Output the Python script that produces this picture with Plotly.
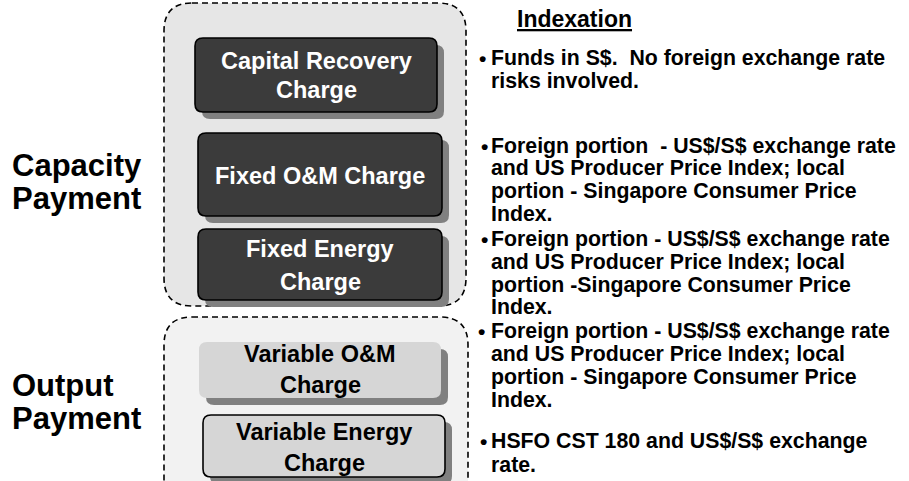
import plotly.graph_objects as go

# ---- content ----
group_labels = [["Capacity", "Payment"], ["Output", "Payment"]]
charge_names = [
    ["Capital Recovery", "Charge"],
    ["Fixed O&M Charge"],
    ["Fixed Energy", "Charge"],
    ["Variable O&M", "Charge"],
    ["Variable Energy", "Charge"],
]
header = "Indexation"
indexation_items = [
    ["Funds in S$.  No foreign exchange rate", "risks involved."],
    ["Foreign portion  - US$/S$ exchange rate", "and US Producer Price Index; local",
     "portion - Singapore Consumer Price", "Index."],
    ["Foreign portion - US$/S$ exchange rate", "and US Producer Price Index; local",
     "portion -Singapore Consumer Price", "Index."],
    ["Foreign portion - US$/S$ exchange rate", "and US Producer Price Index; local",
     "portion - Singapore Consumer Price", "Index."],
    ["HSFO CST 180 and US$/S$ exchange", "rate."],
]

# ---- layout geometry (pixels) ----
W, H = 909, 481
FONT = "Liberation Sans, Arial, sans-serif"

containers = [  # x0, y0, x1, y1, fill
    (164, 3, 466, 306, "#e6e6e6"),
    (164, 317, 468, 520, "#f2f2f2"),
]
boxes = [  # x0, y0, x1, y1, fill, border, textcolor, line centers
    (195, 38, 437, 112, "#3b3b3b", True, "white", [61, 90]),
    (198, 133, 442, 216, "#3b3b3b", True, "white", [176]),
    (198, 229, 442, 300, "#3b3b3b", True, "white", [249, 282]),
    (199, 342, 441, 398, "#d6d6d6", False, "black", [354, 385]),
    (203, 415, 445, 477, "#d6d6d6", True, "black", [432, 463]),
]
label_pos = [(10, [165, 198]), (10, [385, 418])]
item_rows = [[58, 81], [146, 168, 191, 214], [239, 262, 285, 307],
             [331, 354, 377, 400], [441, 465]]
bullet_x = [477, 479, 479, 476, 478]
text_x = 489


def rrect(x0, y0, x1, y1, r):
    return (f"M{x0+r},{y0} L{x1-r},{y0} Q{x1},{y0} {x1},{y0+r} "
            f"L{x1},{y1-r} Q{x1},{y1} {x1-r},{y1} L{x0+r},{y1} "
            f"Q{x0},{y1} {x0},{y1-r} L{x0},{y0+r} Q{x0},{y0} {x0+r},{y0} Z")


fig = go.Figure()
shapes = []
for (x0, y0, x1, y1, fill) in containers:
    shapes.append(dict(type="path", path=rrect(x0, y0, x1, y1, 28), xref="x", yref="y",
                       fillcolor=fill, line=dict(color="black", width=1.6, dash="6px,4px"),
                       layer="below"))
for (x0, y0, x1, y1, fill, border, tc, rows) in boxes:
    shapes.append(dict(type="path", path=rrect(x0 + 7, y0 + 7, x1 + 7, y1 + 7, 8),
                       xref="x", yref="y", fillcolor="#808080",
                       line=dict(width=0), layer="below"))
    shapes.append(dict(type="path", path=rrect(x0, y0, x1, y1, 8), xref="x", yref="y",
                       fillcolor=fill,
                       line=dict(color="black", width=1.6 if border else 0),
                       layer="below"))

ann = []
for (x0, y0, x1, y1, fill, border, tc, rows), names in zip(boxes, charge_names):
    for yy, t in zip(rows, names):
        ann.append(dict(x=(x0 + x1) / 2, y=yy, text=f"<b>{t}</b>", showarrow=False,
                        xanchor="center", yanchor="middle",
                        font=dict(family=FONT, size=23.5, color=tc)))
for (lx, rows), lines in zip(label_pos, group_labels):
    for yy, t in zip(rows, lines):
        ann.append(dict(x=lx, y=yy, text=f"<b>{t}</b>", showarrow=False,
                        xanchor="left", yanchor="middle",
                        font=dict(family=FONT, size=31, color="black")))
ann.append(dict(x=515, y=19, text=f"<b><u>{header}</u></b>", showarrow=False,
                xanchor="left", yanchor="middle",
                font=dict(family=FONT, size=23, color="black")))
for bx, rows, lines in zip(bullet_x, item_rows, indexation_items):
    ann.append(dict(x=bx, y=rows[0], text="<b>•</b>", showarrow=False,
                    xanchor="left", yanchor="middle",
                    font=dict(family=FONT, size=21, color="black")))
    for yy, t in zip(rows, lines):
        ann.append(dict(x=text_x, y=yy, text=f"<b>{t}</b>", showarrow=False,
                        xanchor="left", yanchor="middle",
                        font=dict(family=FONT, size=21.3, color="black")))

fig.update_layout(
    width=W, height=H, margin=dict(l=0, r=0, t=0, b=0),
    paper_bgcolor="white", plot_bgcolor="white",
    xaxis=dict(range=[0, W], visible=False, fixedrange=True),
    yaxis=dict(range=[H, 0], visible=False, fixedrange=True),
    shapes=shapes, annotations=ann, showlegend=False,
)
fig.write_html("out.html", config={"displayModeBar": False},
               post_script="document.body.style.margin='0';document.body.style.overflow='hidden';")
